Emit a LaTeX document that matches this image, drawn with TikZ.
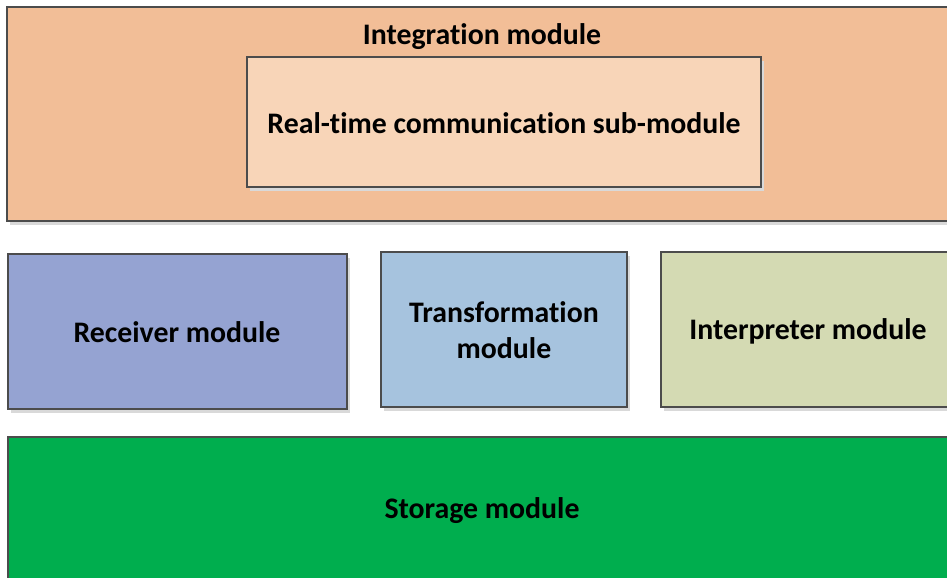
\documentclass[tikz,border=0pt]{standalone}
\usepackage{fontspec}
\setmainfont{Carlito}[Ligatures=NoCommon]
\usetikzlibrary{shadows}

\definecolor{integrationfarbe}{HTML}{F2BE97}
\definecolor{echtzeitfarbe}{HTML}{F8D5B8}
\definecolor{empfaengerfarbe}{HTML}{95A3D2}
\definecolor{transformfarbe}{HTML}{A6C3DE}
\definecolor{interpreterfarbe}{HTML}{D4DAB3}
\definecolor{speicherfarbe}{HTML}{00AE4E}

\tikzset{
	modulbox/.style={draw=black!70,line width=0.9pt,
		drop shadow={shadow xshift=2pt,shadow yshift=-3pt,fill=black!15,opacity=1}},
	modultext/.style={font=\bfseries\fontsize{21.2}{25.5}\selectfont,align=center}
}

\begin{document}
\begin{tikzpicture}[x=0.025cm,y=-0.025cm]

\def\bildbreite{947}
\def\bildhoehe{578}

\useasboundingbox (0,0) rectangle ({\bildbreite},{\bildhoehe});
\clip (0,0) rectangle ({\bildbreite},{\bildhoehe});

\fill[white] (0,0) rectangle ({\bildbreite},{\bildhoehe});

% Integration
\draw[modulbox,fill=integrationfarbe] (7,7) rectangle (957,221);
\node (integration) at (482,37) [modultext] {Integration module};

\draw[modulbox,fill=echtzeitfarbe] (247,57) rectangle (761,187);
\node (echtzeit) at (504,123) [modultext] {Real-time communication sub-module};

% mittlere Reihe
\draw[modulbox,fill=empfaengerfarbe] (8,254) rectangle (347,409);
\node (empfaenger) at (177,332) [modultext] {Receiver module};

\draw[modulbox,fill=transformfarbe] (381,252) rectangle (627,407);
\node (transformation) at (504,330) [modultext] {Transformation\\module};

\draw[modulbox,fill=interpreterfarbe] (661,252) rectangle (955,407);
\node (interpreter) at (808,331) [modultext] {Interpreter module};

% Speicher
\draw[modulbox,fill=speicherfarbe] (8,437) rectangle (957,590);
\node (speicher) at (482,511) [modultext] {Storage module};

\end{tikzpicture}
\end{document}
